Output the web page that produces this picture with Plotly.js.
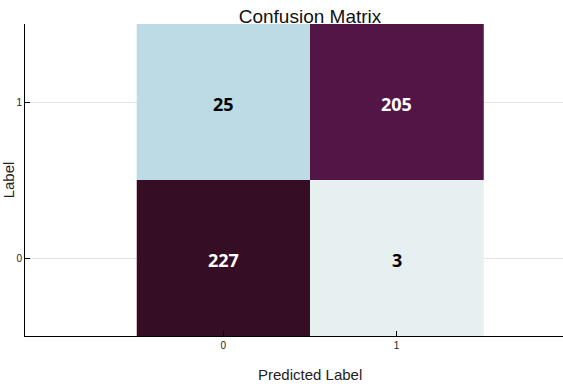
<!DOCTYPE html>
<html><head><meta charset="utf-8">
<script src="https://cdn.plot.ly/plotly-3.0.1.min.js"></script>
<style>html,body{margin:0;padding:0;overflow:hidden;background:#fff}</style>
</head><body><div id="chart"></div>
<script>
const xLabels = ["0", "1"];
const yLabels = ["0", "1"];
const row0 = [227, 3];
const row1 = [25, 205];
const denseScale = [
  [0/11,'rgb(230, 240, 240)'],[1/11,'rgb(191, 221, 229)'],[2/11,'rgb(156, 201, 226)'],
  [3/11,'rgb(129, 180, 227)'],[4/11,'rgb(115, 154, 228)'],[5/11,'rgb(117, 127, 221)'],
  [6/11,'rgb(120, 100, 202)'],[7/11,'rgb(119, 74, 175)'],[8/11,'rgb(113, 50, 141)'],
  [9/11,'rgb(100, 31, 104)'],[10/11,'rgb(80, 20, 66)'],[11/11,'rgb(54, 14, 36)']
];
const z = [row0, row1];
const trace = {
  type: 'heatmap', x: xLabels, y: yLabels, z: z,
  colorscale: denseScale, showscale: false, hoverinfo: 'none'
};
const zAll = z.flat();
const zMin = Math.min(...zAll), zMax = Math.max(...zAll);
const annotations = [];
z.forEach((row, i) => row.forEach((v, j) => {
  const frac = (v - zMin) / (zMax - zMin);
  annotations.push({
    x: xLabels[j], y: yLabels[i], xref: 'x', yref: 'y', text: '<b>' + v + '</b>',
    showarrow: false, yshift: -2,
    font: {family: 'Open Sans, sans-serif', size: 18, color: frac > 0.5 ? '#ffffff' : '#000000'}
  });
}));
annotations.push({text: 'Predicted Label', xref: 'paper', yref: 'paper', x: 0.5, y: -0.09, yanchor: 'top', showarrow: false,
  font: {family: 'Arial, sans-serif', size: 15, color: '#222'}});
const layout = {
  width: 620, height: 392,
  margin: {l: 25, r: 25, t: 24, b: 56},
  paper_bgcolor: '#fff', plot_bgcolor: '#fff',
  title: {text: 'Confusion Matrix', font: {family: 'Arial, Liberation Sans, sans-serif', size: 19, color: '#111'}, x: 0.5, xref: 'container', y: 0.975, yanchor: 'top'},
  annotations: annotations,
  xaxis: {type: 'category', range: [-1.145, 2.145], showgrid: false, zeroline: false,
    showline: true, linecolor: '#000', linewidth: 1, ticks: 'inside', ticklen: 5, tickcolor: '#000',
    tickfont: {family: 'Arial, sans-serif', size: 10, color: '#222'}},
  yaxis: {type: 'category', range: [-0.5, 1.5], showgrid: true, gridcolor: '#e3e3e3', zeroline: false,
    showline: true, linecolor: '#000', linewidth: 1, ticks: 'inside', ticklen: 5, tickcolor: '#000',
    tickfont: {family: 'Arial, sans-serif', size: 10, color: '#222'},
    title: {text: 'Label', font: {family: 'Arial, sans-serif', size: 15, color: '#222'}, standoff: 4}}
};
Plotly.newPlot('chart', [trace], layout, {displayModeBar: false, staticPlot: true});
</script></body></html>
